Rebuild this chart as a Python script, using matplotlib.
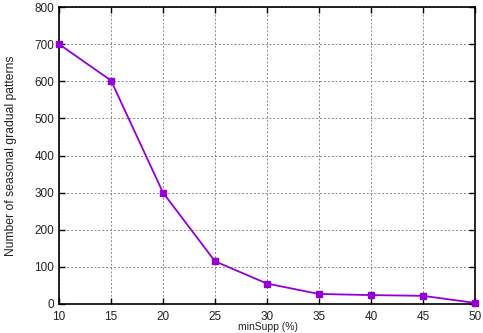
import matplotlib
matplotlib.use("Agg")
import matplotlib.pyplot as plt

min_supp = [10, 15, 20, 25, 30, 35, 40, 45, 50]
n_patterns = [700, 602, 300, 115, 55, 27, 24, 22, 3]

plt.rcParams['font.family'] = ['Liberation Sans', 'DejaVu Sans']

fig = plt.figure(figsize=(4.83, 3.33), dpi=100)
ax = fig.add_axes([59 / 483, 1 - 304 / 333, 416 / 483, 297 / 333])

ax.plot(min_supp, n_patterns, color='#9400d3', linewidth=1.3,
        marker='s', markersize=4.5, clip_on=False, zorder=3)

ax.set_xlim(10, 50)
ax.set_ylim(0, 800)
ax.set_xticks(range(10, 51, 5))
ax.set_yticks(range(0, 801, 100))
ax.grid(True, color='#888888', linestyle=(0, (2, 2)), linewidth=0.7)
ax.tick_params(direction='in', top=True, right=True, labelsize=8.5,
               labelcolor='#222222', length=4, width=1)
ax.tick_params(axis='x', pad=5)
for s in ax.spines.values():
    s.set_linewidth(1.2)

ax.set_ylabel("Number of seasonal gradual patterns", fontsize=8.7,
              color='#222222')
ax.yaxis.set_label_coords(-42 / 416, 0.5)
fig.text(0.555, 0.004, "minSupp (%)", fontsize=7.5, color='#222222',
         ha='center', va='bottom')

fig.savefig("out.png", dpi=100)
